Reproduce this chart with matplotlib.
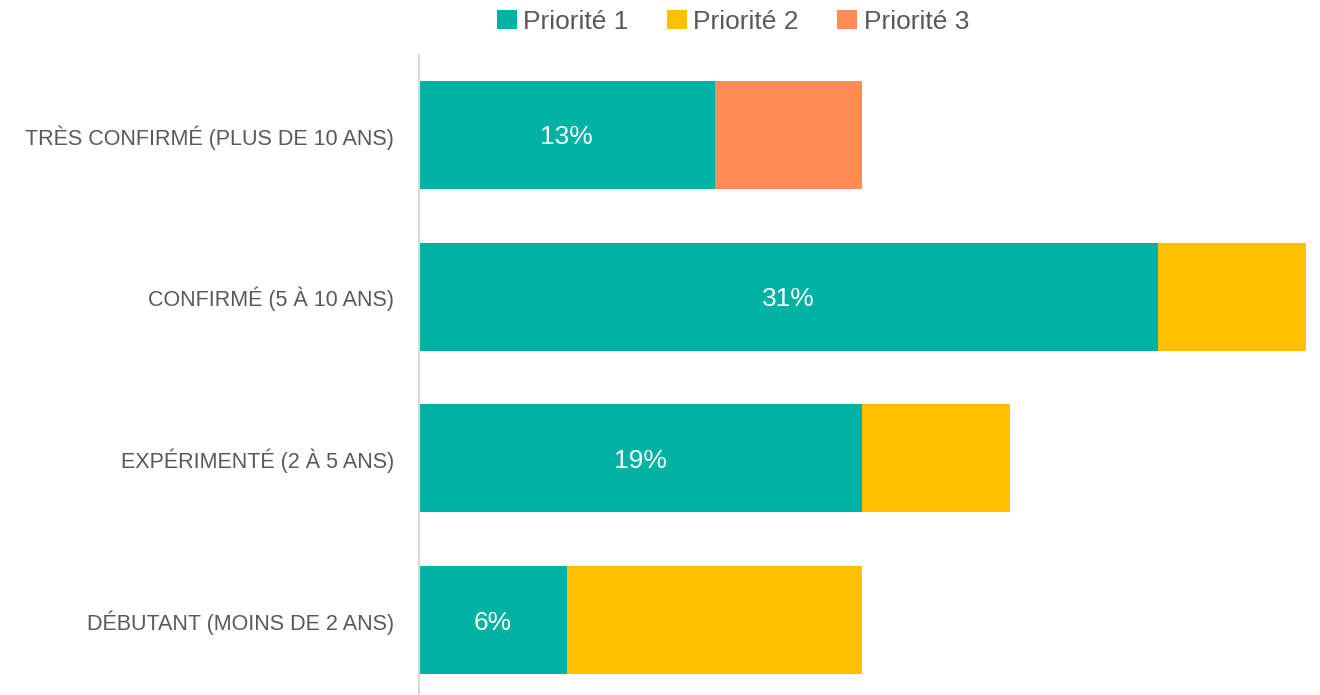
import matplotlib
matplotlib.use('Agg')
import matplotlib.pyplot as plt
from matplotlib.patches import Patch

plt.rcParams['font.family'] = ['Liberation Sans', 'DejaVu Sans']

# data (share of respondents, %)
categories = ['TRÈS CONFIRMÉ (PLUS DE 10 ANS)', 'CONFIRMÉ (5 À 10 ANS)',
              'EXPÉRIMENTÉ (2 À 5 ANS)', 'DÉBUTANT (MOINS DE 2 ANS)']
priorite_1 = [12.5, 31.25, 18.75, 6.25]
priorite_2 = [0, 6.25, 6.25, 12.5]
priorite_3 = [6.25, 0, 0, 0]
labels_1 = ['13%', '31%', '19%', '6%']

series_names = ['Priorité 1', 'Priorité 2', 'Priorité 3']
colors = ['#00b2a3', '#ffc000', '#ff8c55']

fig = plt.figure(figsize=(13.2, 6.95), dpi=100)
ax = fig.add_axes([419 / 1320, 0, 1 - 419 / 1320, 640 / 695])

y = list(range(len(categories)))
left = [0] * len(categories)
for vals, col in zip([priorite_1, priorite_2, priorite_3], colors):
    ax.barh(y, vals, left=left, height=0.667, color=col, edgecolor='none')
    left = [a + b for a, b in zip(left, vals)]

for i, v in enumerate(priorite_1):
    ax.text(v / 2, i, labels_1[i], ha='center', va='center_baseline', color='white', fontsize=19)

ax.set_xlim(0, 38.1)
ax.set_ylim(3.463, -0.494)
ax.set_yticks(y)
ax.set_yticklabels(categories, fontsize=15.5, color='#595959')
ax.tick_params(axis='y', length=0, pad=18)
ax.set_xticks([])
for s in ['top', 'right', 'bottom']:
    ax.spines[s].set_visible(False)
ax.spines['left'].set_color('#d9d9d9')
ax.spines['left'].set_linewidth(1.5)

handles = [Patch(facecolor=c, label=n) for c, n in zip(colors, series_names)]
leg = fig.legend(handles=handles, loc='upper center', bbox_to_anchor=(733 / 1320, 1.02), ncol=3,
                 frameon=False, fontsize=19, handlelength=0.75, handleheight=0.75,
                 handletextpad=0.25, columnspacing=1.45)
for t in leg.get_texts():
    t.set_color('#595959')

fig.savefig('out.png', dpi=100)
